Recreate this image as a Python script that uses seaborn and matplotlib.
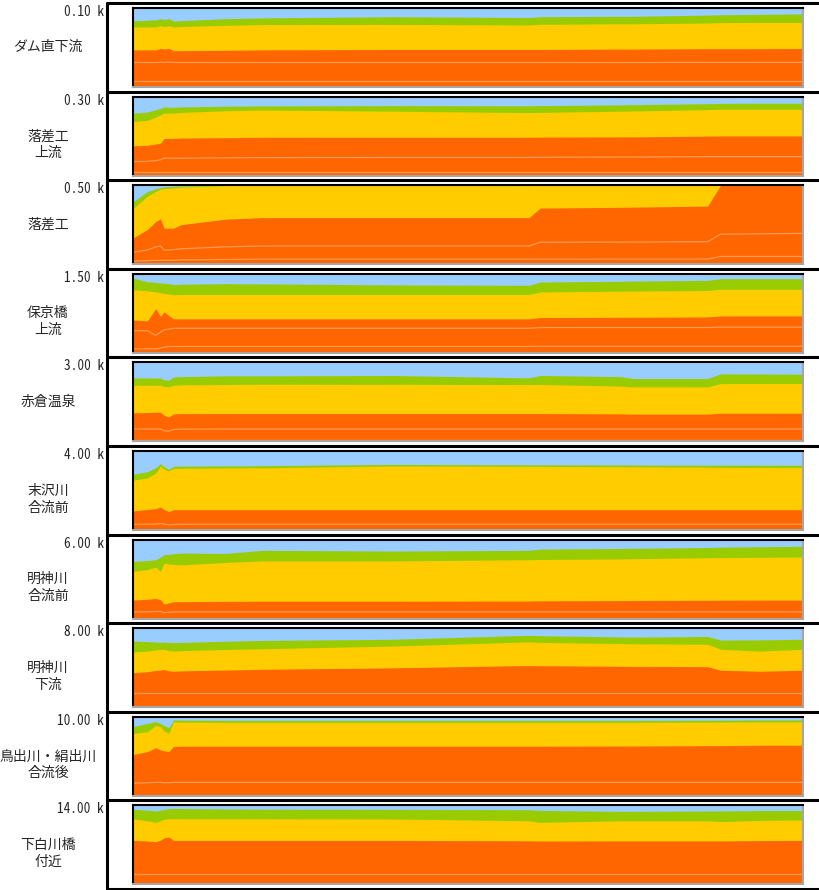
import matplotlib
matplotlib.use("Agg")
import matplotlib.pyplot as plt
from matplotlib.lines import Line2D
import seaborn as sns

sns.set_style("white")
plt.rcParams['font.family'] = ['Noto Sans CJK JP', 'DejaVu Sans']

# 地点
distances = ["0.10 k", "0.30 k", "0.50 k", "1.50 k", "3.00 k",
             "4.00 k", "6.00 k", "8.00 k", "10.00 k", "14.00 k"]
places = ["ダム直下流", "落差工\n上流", "落差工", "保京橋\n上流", "赤倉温泉",
          "末沢川\n合流前", "明神川\n合流前", "明神川\n下流",
          "鳥出川・絹出川\n合流後", "下白川橋\n付近"]

# 時間軸 (年)
years = [0, 0.8, 1.25, 1.5, 1.7, 1.95, 2.2, 2.6, 5, 7, 14,
         21.3, 21.9, 26.2, 26.9, 30.9, 31.6, 33.7, 36]

# 累加百分率 (%): 各層の上端
orange_top = [
    [47, 47, 47, 49, 48, 49, 46, 46, 46.5, 47, 47.5, 47.5, 47.5, 48, 48, 48.5, 48.5, 48.5, 48.8],
    [37.6, 38.5, 40, 41, 47, 47, 47, 47.5, 48, 48.5, 48.5, 48.5, 48.7, 49, 49, 50, 50.2, 50.2, 50.2],
    [32.8, 44, 54, 57.4, 45.5, 45.5, 45.5, 50, 57, 59, 59, 59, 71, 72, 72.2, 73.6, 100, 100, 100],
    [41.5, 40.5, 56, 46, 52, 47, 43, 43, 43, 43, 43, 43, 44.6, 45, 45, 45.4, 46.7, 46.7, 46.7],
    [36.2, 36.5, 37, 37, 33, 31, 34.9, 35.2, 35.3, 35.3, 35.3, 35.3, 35.3, 34.8, 34.5, 34.5, 35.7, 35.7, 35.7],
    [24, 26, 27, 29, 26, 23.2, 25.7, 25.7, 25.7, 25.7, 25.7, 25.7, 25.7, 25.7, 25.7, 25.7, 25.7, 25.7, 25.7],
    [23.4, 24.5, 25.5, 24, 18.3, 20, 21.3, 21.5, 21.8, 22, 22, 22.2, 22.5, 22.8, 23, 23.2, 23.3, 23.4, 23.4],
    [43.4, 45, 46.5, 47, 47.7, 46, 45.5, 46, 47, 48, 49.8, 52.8, 52.5, 51.8, 51.6, 51.3, 46.8, 45.5, 46.8],
    [52, 56, 61, 58, 57, 56, 62.5, 62.8, 62.8, 62.8, 62.8, 62.8, 62.8, 63, 63, 63.5, 63.5, 64, 64],
    [55.7, 55, 54, 56, 59, 60, 55.7, 55.7, 55.7, 55.7, 55.7, 55.2, 54.9, 55, 55, 55, 55, 55.5, 55.7],
]
yellow_top = [
    [76, 76, 76, 77.5, 76.5, 77.5, 76, 76.5, 78, 79, 79.2, 78.5, 79.3, 80, 80, 81, 81.5, 81.7, 81.7],
    [68.4, 70, 74, 76.8, 79, 79, 79, 80, 82, 83, 81.5, 79.7, 80, 81.5, 81.8, 83.5, 84, 84, 84],
    [70, 86, 92, 95, 95.7, 96, 96.5, 97.5, 99.5, 100, 100, 99.3, 100, 100, 100, 100, 100, 100, 100],
    [79.7, 78.5, 77, 76, 75, 74.5, 73.5, 73.8, 73.8, 73.8, 73.8, 73.8, 77, 78, 78.2, 78.8, 80.4, 80.4, 80.4],
    [71, 71, 71, 71, 69.5, 69, 71, 71.5, 72, 72.3, 72.2, 71.9, 72, 70, 69, 69, 73.2, 73.2, 73.2],
    [62.9, 66, 72, 81, 77, 74.7, 78, 78, 78.5, 78.7, 81, 80.5, 80.5, 80, 80, 79.5, 79.3, 79.2, 79],
    [59.6, 62, 65, 59.6, 70.2, 69, 68.5, 68, 71, 73, 73, 74.5, 74.8, 75.5, 75.8, 77, 77.3, 77.6, 77.9],
    [69.8, 71, 72.5, 73, 73.2, 71.5, 71, 71.5, 73, 74, 77.4, 82.6, 82, 80.5, 80.2, 79.6, 73.2, 71, 73.2],
    [79, 81, 89, 87.5, 82, 79, 93.5, 93.2, 93, 93, 93, 93, 93, 93, 93, 93.3, 93.3, 93.5, 93.5],
    [83, 80.5, 78.5, 80.5, 82.5, 83, 83, 83, 83, 83, 82.8, 80.5, 78.5, 80.5, 80.5, 80.5, 79.5, 81, 81.5],
]
green_top = [
    [84, 84.5, 85, 86.5, 85.5, 86.5, 83.5, 84, 86.5, 87.5, 89, 88, 89, 89.5, 89.5, 91, 91.5, 92, 92.5],
    [79, 80.5, 83.5, 85, 87, 86.5, 86.5, 87, 87.8, 88.2, 88.6, 88.4, 88.6, 89.5, 89.8, 91, 91.4, 91.6, 91.6],
    [78.7, 92, 95.5, 97, 97.9, 98.2, 98.5, 99, 100, 100, 100, 99.6, 100, 100, 100, 100, 100, 100, 100],
    [94.5, 90, 89, 88.5, 88, 87.5, 86.3, 86.8, 87.5, 87.2, 86, 85.4, 89.6, 90.5, 90.8, 91.7, 93.8, 93.8, 93.8],
    [80.4, 80.4, 80.4, 80, 78, 77.4, 81.7, 82, 83, 83, 83.5, 80.4, 83.5, 82, 79.6, 79.6, 85.5, 85.3, 85],
    [70.5, 73.8, 79, 84, 80, 76.8, 80.6, 80.8, 81.2, 81.4, 83, 82.5, 82.5, 82.3, 82.2, 82, 82, 82, 81.9],
    [72.3, 73.5, 74.5, 78, 81, 81.5, 82, 83, 82.5, 86.4, 85.5, 86.4, 88, 88.8, 89, 90, 90.5, 91, 91.5],
    [83.8, 83, 82.5, 82, 82.5, 82, 81.7, 82, 83.5, 84.5, 86, 91, 90.5, 89, 88.8, 89.5, 85, 85.2, 86],
    [87.5, 91.7, 94, 91.7, 89, 86, 96, 95.8, 95.5, 95.5, 95.5, 95.5, 95.5, 95.5, 95.5, 95.7, 95.7, 96, 96],
    [95, 94, 92.8, 94, 95, 96, 96.2, 96, 95.5, 95.2, 95, 94.5, 93.7, 92.5, 92.5, 93, 93, 93.5, 93.5],
]
# 礫分の細区分境界
orange_line1 = [
    [31, 31, 31, 31.5, 31, 31.5, 31, 31, 31, 31, 31, 31, 31, 31, 31, 31.2, 31.2, 31.2, 31.2],
    [17.7, 18, 19, 20, 22, 22, 22, 22, 22.5, 22.8, 23, 23, 23.2, 23.5, 23.5, 24, 24, 24, 24],
    [15, 18, 22, 23, 18, 18, 18.5, 19.5, 22, 23, 23, 23, 27.7, 28, 28, 28.5, 38, 38.5, 39],
    [28, 28, 22, 26, 29, 30, 31, 31, 31, 31, 31, 31, 32, 32, 32, 32, 32.5, 32.5, 32.5],
    [15.7, 15.7, 15.7, 15.7, 13.5, 13, 15, 15.5, 15.7, 15.7, 15.7, 15.7, 15.7, 15.7, 15.7, 15.7, 15.7, 15.7, 15.7],
    [7.2, 7.2, 7.5, 8, 7.5, 6.5, 7, 7.2, 7.2, 7.2, 7.2, 7.2, 7.2, 7.2, 7.2, 7.2, 7.2, 7.2, 7.2],
    [8.5, 8.5, 9, 9, 7.5, 8, 8.3, 8.5, 8.5, 8.5, 8.5, 8.5, 8.5, 8.5, 8.5, 8.5, 8.5, 8.5, 8.5],
    [17.9, 17.9, 17.9, 17.9, 17.9, 17.9, 17.9, 17.9, 17.9, 17.9, 17.9, 17.9, 17.9, 17.9, 17.9, 17.9, 17.9, 17.9, 17.9],
    [16, 16.5, 17, 17, 16.5, 16.5, 17, 17, 17, 17, 17, 17, 17, 17, 17, 17, 17, 17, 17],
    [13.5, 13.5, 13.5, 13.5, 13.5, 13.5, 13.5, 13.5, 13.5, 13.5, 13.5, 13.5, 13.5, 13.5, 13.5, 13.5, 13.5, 13.5, 13.5],
]
orange_line2 = [
    [7, 7, 7, 7, 7, 7, 7, 7, 7, 7, 7, 7, 7, 7, 7, 7, 7, 7, 7],
    [4, 4, 4, 4, 4, 4, 4, 4, 4, 4, 4, 4, 4, 4, 4, 4, 4, 4, 4],
    [4, 4.5, 5, 5, 5, 5, 5, 5.5, 6, 6.4, 6.4, 6.4, 6.4, 6.5, 6.5, 6.5, 9.8, 9.8, 9.8],
    [5, 5, 5, 6, 7, 8, 8, 8, 8, 8, 8, 8, 8.3, 8.3, 8.3, 8.3, 8.3, 8.3, 8.3],
    [2, 2, 2, 2, 2, 2, 2, 2, 2, 2, 2, 2, 2, 2, 2, 2, 2, 2, 2],
    None, None, None, None, None,
]

C_BLUE, C_GREEN, C_YELLOW, C_ORANGE = '#99CCFF', '#99CC00', '#FFCC00', '#FF6600'
C_LINE = '#FF9A55'
MONO = ['Noto Sans Mono CJK JP', 'DejaVu Sans Mono']

W, H = 819, 890
fig = plt.figure(figsize=(W / 100, H / 100), dpi=100)
fig.patch.set_facecolor('white')

ROW = 88.6
for i in range(10):
    top = 8 + i * ROW
    ax = fig.add_axes([132.5 / W, 1 - (top + 79) / H, 670 / W, 79 / H])
    ax.fill_between(years, 0, 100, color=C_BLUE, lw=0)
    ax.fill_between(years, 0, green_top[i], color=C_GREEN, lw=0)
    ax.fill_between(years, 0, yellow_top[i], color=C_YELLOW, lw=0)
    ax.fill_between(years, 0, orange_top[i], color=C_ORANGE, lw=0)
    sns.lineplot(x=years, y=orange_line1[i], ax=ax, color=C_LINE, linewidth=0.9, legend=False)
    if orange_line2[i] is not None:
        sns.lineplot(x=years, y=orange_line2[i], ax=ax, color=C_LINE, linewidth=0.9, legend=False)

    ax.set_xlim(0, 36)
    ax.set_ylim(0, 100)
    ax.set_xlabel('')
    ax.set_ylabel('')
    ax.set_yticks([])
    ax.set_xticks(range(1, 36))
    ax.xaxis.set_ticks_position('top')
    ax.tick_params(axis='x', direction='in', length=3, width=1, color='black',
                   labeltop=False, labelbottom=False)
    for s in ['top', 'left']:
        ax.spines[s].set_color('black')
        ax.spines[s].set_linewidth(1.5)
    for s in ['right', 'bottom']:
        ax.spines[s].set_color('#A6A6A6')
        ax.spines[s].set_linewidth(1.5)

    row_top = 3 + i * ROW
    fig.text(104 / W, 1 - (row_top + 9) / H, distances[i], ha='right', va='center',
             fontsize=9.6, family=MONO)
    n_lines = places[i].count('\n') + 1
    off = 44 if n_lines == 1 else 53
    fig.text(48 / W, 1 - (row_top + off) / H, places[i], ha='center', va='center',
             fontsize=10, multialignment='center', linespacing=1.25)

# 外枠
for i in range(11):
    y = min(3 + i * ROW, 888.5)
    fig.add_artist(Line2D([107 / W, 1], [1 - y / H, 1 - y / H], color='black', lw=2.2))
fig.add_artist(Line2D([107 / W, 107 / W], [1 - 3 / H, 1 - 888.5 / H], color='black', lw=2.2))

plt.savefig('out.png', dpi=100)
